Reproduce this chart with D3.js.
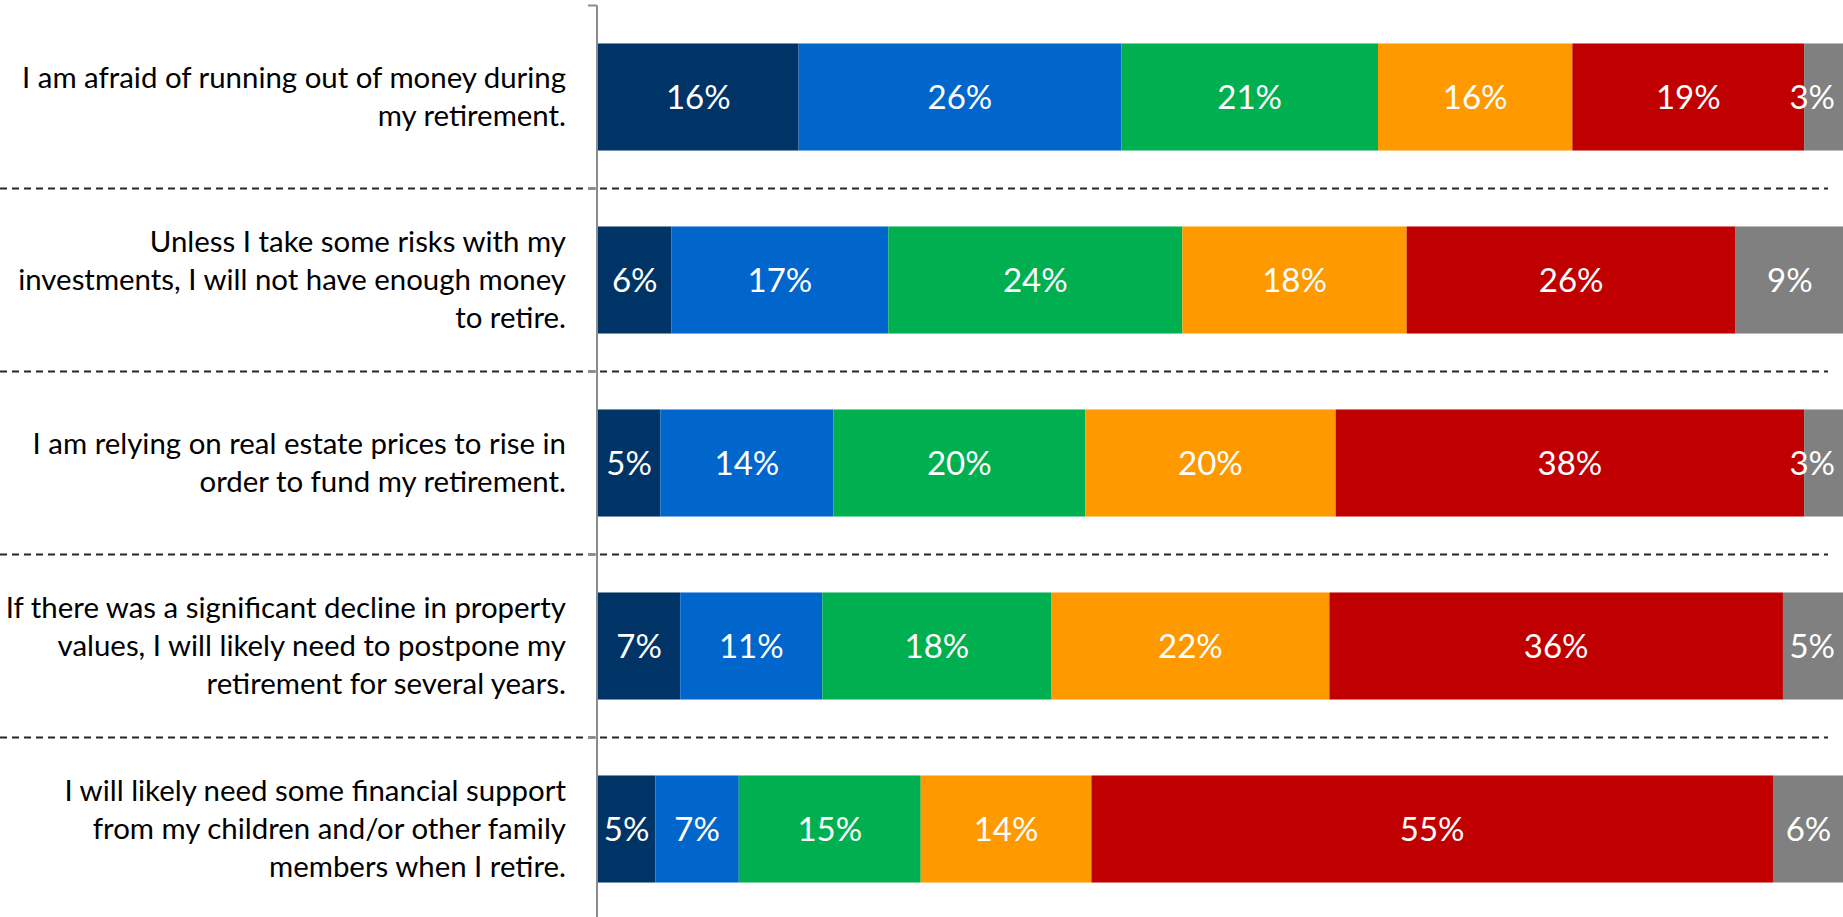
<!DOCTYPE html>
<html>
<head>
<meta charset="utf-8">
<script src="https://cdn.jsdelivr.net/npm/d3@7"></script>
<style>
	body { margin: 0; background: #fff; }
	svg { display: block; }
</style>
</head>
<body>
<div id="chart"></div>
<script>
// category labels, already broken into the lines used in the picture
let categories = [
	["I am afraid of running out of money during", "my retirement."],
	["Unless I take some risks with my", "investments, I will not have enough money", "to retire."],
	["I am relying on real estate prices to rise in", "order to fund my retirement."],
	["If there was a significant decline in property", "values, I will likely need to postpone my", "retirement for several years."],
	["I will likely need some financial support", "from my children and/or other family", "members when I retire."]
];

// one array per series (left to right in each bar), one value per category
let seriesKeys = ["s1", "s2", "s3", "s4", "s5", "s6"];
let s1 = [16.1, 5.9, 5.0, 6.6, 4.6];
let s2 = [25.9, 17.4, 13.9, 11.4, 6.7];
let s3 = [20.6, 23.6, 20.2, 18.4, 14.6];
let s4 = [15.6, 18.0, 20.1, 22.3, 13.7];
let s5 = [18.6, 26.4, 37.6, 36.4, 54.7];
let s6 = [3.2, 8.7, 3.2, 4.9, 5.7];
let seriesColors = ["#003366", "#0066CC", "#00B050", "#FF9900", "#C00000", "#808080"];

let Chart = {
	constant: {
		width: 1843,
		height: 917,
		axisX: 597,
		barLeft: 598,
		fullWidth: 1246,
		textRight: 566,
		lineHeight: 38,
		dashRight: 1828
	},
	draw: (strSelector) => {
		let c = Chart.constant;
		let svg = d3.select(strSelector)
			.append("svg")
			.attr("width", c.width)
			.attr("height", c.height)
		;

		let table = categories.map((lines, i) => {
			let row = {id: i, lines: lines};
			row.s1 = s1[i]; row.s2 = s2[i]; row.s3 = s3[i];
			row.s4 = s4[i]; row.s5 = s5[i]; row.s6 = s6[i];
			return row;
		});
		let stacked = d3.stack().keys(seriesKeys)(table);

		let x = d3.scaleLinear()
			.domain([0, 100])
			.range([c.barLeft, c.barLeft + c.fullWidth])
		;
		let y = d3.scaleBand()
			.domain(table.map((d) => d.id))
			.range([5.5, 920.5])
			.paddingInner(0.415)
			.paddingOuter(0.2075)
		;
		let step = y.step();
		let gap = step - y.bandwidth();

		/* dashed separators between categories */
		svg.append("g")
			.selectAll("line")
			.data(table.slice(1))
			.join("line")
			.attr("x1", 0)
			.attr("x2", c.dashRight)
			.attr("y1", (d) => y(d.id) - gap / 2)
			.attr("y2", (d) => y(d.id) - gap / 2)
			.attr("stroke", "#262626")
			.attr("stroke-width", 2)
			.attr("stroke-dasharray", "7,5")
		;

		/* category axis on the left of the bars */
		let boundaries = d3.range(table.length + 1).map((i) => 5.5 + i * step);
		let axis = svg.append("g");
		axis.append("line")
			.attr("x1", c.axisX).attr("x2", c.axisX)
			.attr("y1", boundaries[0]).attr("y2", c.height)
			.attr("stroke", "#8C8C8C")
			.attr("stroke-width", 2)
		;
		axis.selectAll("line.tick")
			.data(boundaries)
			.join("line")
			.attr("class", "tick")
			.attr("x1", c.axisX - 9).attr("x2", c.axisX)
			.attr("y1", (d) => d).attr("y2", (d) => d)
			.attr("stroke", "#8C8C8C")
			.attr("stroke-width", 2)
		;

		/* category labels */
		svg.append("g")
			.selectAll("text")
			.data(table)
			.join("text")
			.attr("text-anchor", "end")
			.attr("font-family", "Lato, 'Open Sans', sans-serif")
			.attr("font-size", 29.4)
			.attr("fill", "#000")
			.each(function(d) {
				let t = d3.select(this);
				let yc = y(d.id) + y.bandwidth() / 2;
				let n = d.lines.length;
				d.lines.forEach((line, k) => {
					t.append("tspan")
						.attr("x", c.textRight)
						.attr("y", yc + (k - (n - 1) / 2) * c.lineHeight)
						.attr("dy", "0.35em")
						.text(line)
					;
				});
			})
		;

		/* stacked segments */
		let layer = svg.append("g")
			.selectAll("g")
			.data(stacked)
			.join("g")
			.attr("fill", (d, i) => seriesColors[i])
		;
		layer.selectAll("rect")
			.data((d) => d)
			.join("rect")
			.attr("x", (d) => x(d[0]))
			.attr("y", (d) => y(d.data.id))
			.attr("width", (d) => x(d[1]) - x(d[0]))
			.attr("height", y.bandwidth())
		;

		/* value labels, kept inside the picture on the right */
		let labels = svg.append("g");
		stacked.forEach((serie) => {
			serie.forEach((d) => {
				let t = labels.append("text")
					.attr("x", (x(d[0]) + x(d[1])) / 2)
					.attr("y", y(d.data.id) + y.bandwidth() / 2)
					.attr("dy", "0.36em")
					.attr("text-anchor", "middle")
					.attr("font-family", "Lato, 'Open Sans', sans-serif")
					.attr("font-size", 33)
					.attr("fill", "#fff")
					.text(Math.round(d[1] - d[0]) + "%")
				;
				let w = t.node().getComputedTextLength();
				let cx = +t.attr("x");
				if (cx + w / 2 > c.width - 8) {
					t.attr("x", c.width - 8 - w / 2);
				}
			});
		});
	}
};

Chart.draw("#chart");
</script>
</body>
</html>
